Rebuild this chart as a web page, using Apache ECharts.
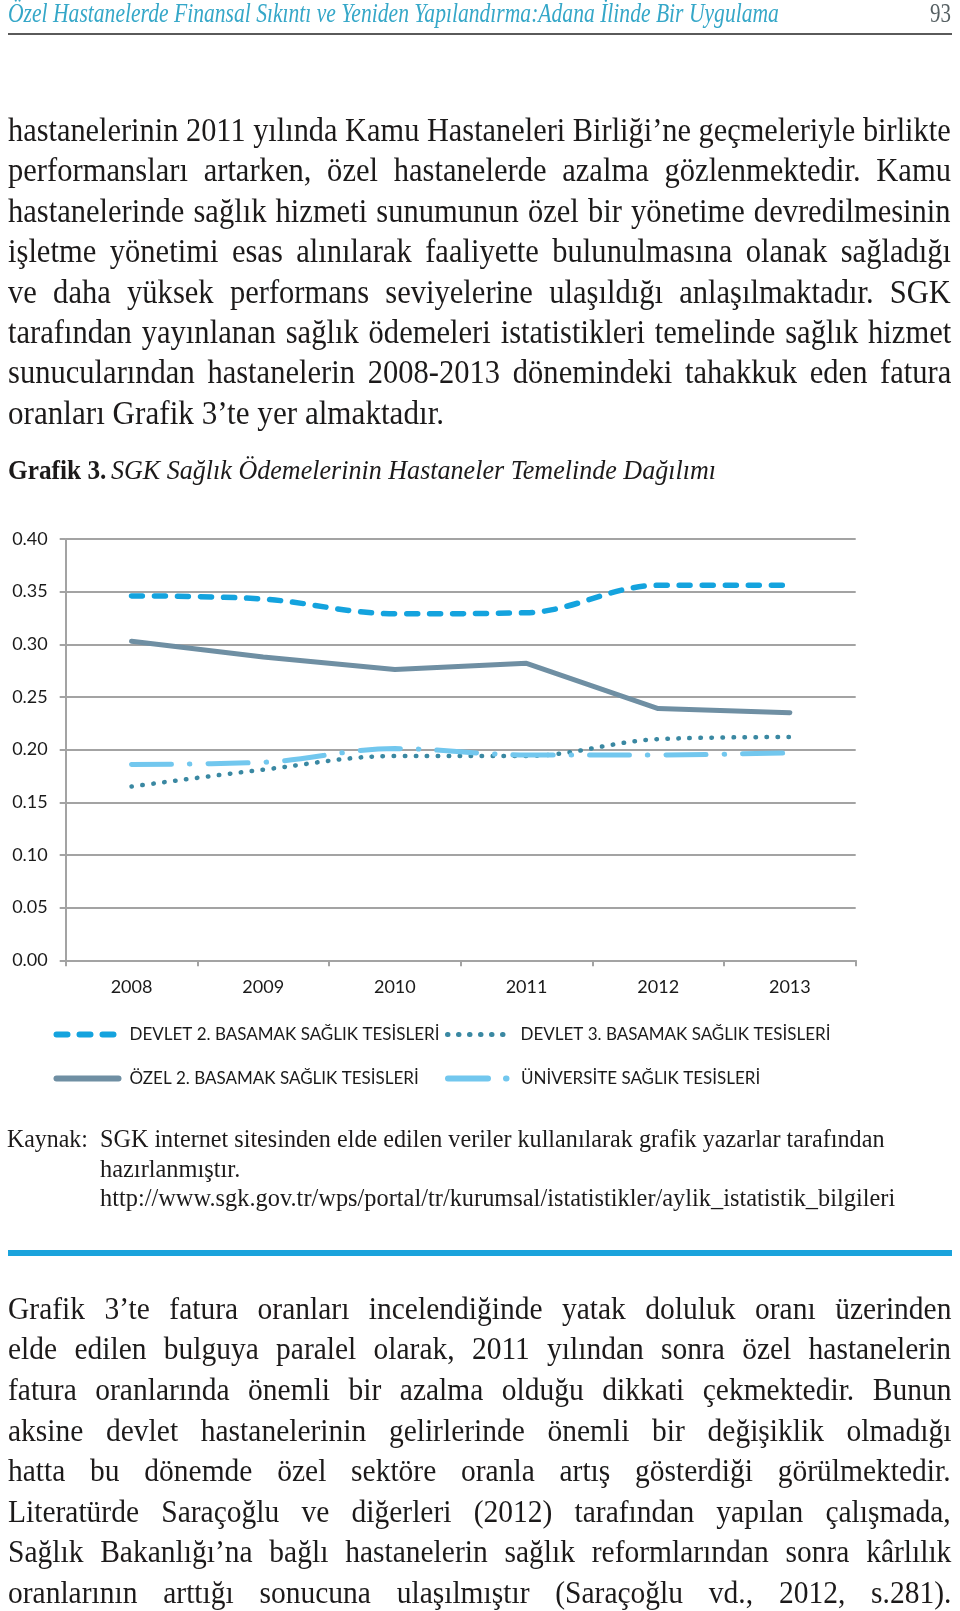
<!DOCTYPE html>
<html>
<head>
<meta charset="utf-8">
<script src="https://cdn.jsdelivr.net/npm/echarts@6/dist/echarts.min.js"></script>
<style>
  html, body { margin:0; padding:0; background:#fff; }
  #page { position:relative; width:960px; height:1611px; overflow:hidden; }
  #chart { position:absolute; left:0; top:0; width:960px; height:1611px; }
  .ln { position:absolute; white-space:pre; transform-origin:0 0; color:#1c1a1a; }
</style>
</head>
<body>
<div id="page">
  <div id="chart"></div>
  <div style="position:absolute;left:8px;top:33px;width:944px;height:2px;background:#5a5a5a;"></div>
  <div style="position:absolute;left:8px;top:1250px;width:944px;height:6px;background:#1aa3dc;"></div>
</div>
<script>
// ---- chart data ----
const years = ['2008', '2009', '2010', '2011', '2012', '2013'];
const devlet2 = [0.346, 0.343, 0.329, 0.330, 0.356, 0.356];
const devlet3 = [0.165, 0.181, 0.194, 0.194, 0.210, 0.212];
const ozel2 = [0.303, 0.288, 0.276, 0.282, 0.239, 0.235];
const universite = [0.186, 0.188, 0.201, 0.195, 0.195, 0.197];
const seriesNames = [
  'DEVLET 2. BASAMAK SAĞLIK TESİSLERİ',
  'DEVLET 3. BASAMAK SAĞLIK TESİSLERİ',
  'ÖZEL 2. BASAMAK SAĞLIK TESİSLERİ',
  'ÜNİVERSİTE SAĞLIK TESİSLERİ'
];

// ---- page text ----
const headerTitle = 'Özel Hastanelerde Finansal Sıkıntı ve Yeniden Yapılandırma:Adana İlinde Bir Uygulama';
const pageNumber = '93';
const topLines = [
  'hastanelerinin 2011 yılında Kamu Hastaneleri Birliği’ne geçmeleriyle birlikte',
  'performansları artarken, özel hastanelerde azalma gözlenmektedir. Kamu',
  'hastanelerinde sağlık hizmeti sunumunun özel bir yönetime devredilmesinin',
  'işletme yönetimi esas alınılarak faaliyette bulunulmasına olanak sağladığı',
  've daha yüksek performans seviyelerine ulaşıldığı anlaşılmaktadır. SGK',
  'tarafından yayınlanan sağlık ödemeleri istatistikleri temelinde sağlık hizmet',
  'sunucularından hastanelerin 2008-2013 dönemindeki tahakkuk eden fatura',
  'oranları Grafik 3’te yer almaktadır.'
];
const captionBold = 'Grafik 3.';
const captionItalic = 'SGK Sağlık Ödemelerinin Hastaneler Temelinde Dağılımı';
const sourceLabel = 'Kaynak:';
const sourceLines = [
  'SGK internet sitesinden elde edilen veriler kullanılarak grafik yazarlar tarafından',
  'hazırlanmıştır.',
  'http://www.sgk.gov.tr/wps/portal/tr/kurumsal/istatistikler/aylik_istatistik_bilgileri'
];
const bottomLines = [
  'Grafik 3’te fatura oranları incelendiğinde yatak doluluk oranı üzerinden',
  'elde edilen bulguya paralel olarak, 2011 yılından sonra özel hastanelerin',
  'fatura oranlarında önemli bir azalma olduğu dikkati çekmektedir. Bunun',
  'aksine devlet hastanelerinin gelirlerinde önemli bir değişiklik olmadığı',
  'hatta bu dönemde özel sektöre oranla artış gösterdiği görülmektedir.',
  'Literatürde Saraçoğlu ve diğerleri (2012) tarafından yapılan çalışmada,',
  'Sağlık Bakanlığı’na bağlı hastanelerin sağlık reformlarından sonra kârlılık',
  'oranlarının arttığı sonucuna ulaşılmıştır (Saraçoğlu vd., 2012, s.281).'
];

const page = document.getElementById('page');
function placeLine(o) {
  const el = document.createElement('div');
  el.className = 'ln';
  el.textContent = o.text;
  const F = o.size;
  el.style.fontFamily = '"Liberation Serif", "Times New Roman", serif';
  el.style.fontSize = F + 'px';
  el.style.lineHeight = F + 'px';
  if (o.weight) el.style.fontWeight = o.weight;
  if (o.italic) el.style.fontStyle = 'italic';
  if (o.color) el.style.color = o.color;
  el.style.left = o.x + 'px';
  page.appendChild(el);
  let W = el.offsetWidth;
  const s0 = o.s0 || 1;
  const sy = o.sy || 1;
  if (o.justify) {
    const spaces = (o.text.match(/ /g) || []).length;
    if (spaces > 0 && W * s0 < o.width) {
      el.style.wordSpacing = ((o.width / s0 - W) / spaces) + 'px';
      W = el.offsetWidth;
    }
  }
  const sx = o.width / W;
  el.style.top = (o.baseline - 0.8375 * F * sy) + 'px';
  el.style.transform = 'scale(' + sx + ',' + sy + ')';
}

// header
placeLine({text: headerTitle, x: 8, baseline: 22, size: 23, italic: true, color: '#35a7c8', width: 771, sy: 1.15});
placeLine({text: pageNumber, x: 930, baseline: 22, size: 23, color: '#555f62', width: 21, sy: 1.15});

// top paragraph
topLines.forEach((t, i) => {
  const last = i === topLines.length - 1;
  placeLine({text: t, x: 8, baseline: 141.5 + 40.4 * i, size: 31.5, sy: 1.04, s0: 0.97,
    justify: !last, width: last ? 436 : 943});
});

// caption
placeLine({text: captionBold, x: 8, baseline: 480, size: 24, weight: 'bold', width: 98, sy: 1.12});
placeLine({text: captionItalic, x: 111, baseline: 480, size: 24, italic: true, width: 605, sy: 1.12});

// source
placeLine({text: sourceLabel, x: 7, baseline: 1147, size: 23, width: 81, sy: 1.1});
const srcW = [785, 140, 795];
sourceLines.forEach((t, i) => {
  placeLine({text: t, x: 99.5, baseline: 1147 + 29.7 * i, size: 23, sy: 1.1, width: srcW[i]});
});

// bottom paragraph
bottomLines.forEach((t, i) => {
  placeLine({text: t, x: 8, baseline: 1320 + 40.6 * i, size: 29.5, sy: 1.1, s0: 1,
    justify: true, width: 943});
});

// ---- chart ----
const chart = echarts.init(document.getElementById('chart'), null, {renderer: 'canvas'});
const gridColor = '#a3a3a3';
const labelFont = {fontFamily: 'Lato', fontSize: 18, color: '#1a1a1a'};
function legendAt(name, left, top, lw) {
  return {
    data: [name], left: left, top: top, padding: 0, itemWidth: 62, itemHeight: 14, itemGap: 0,
    selectedMode: false,
    itemStyle: {opacity: 0, borderWidth: 0},
    lineStyle: {width: lw},
    textStyle: {fontFamily: 'Lato', fontSize: 17, color: '#1a1a1a', padding: [0, 0, 0, 6]}
  };
}
const option = {
  animation: false,
  backgroundColor: 'transparent',
  grid: {left: 65.7, right: 104.3, top: 539, bottom: 650.7},
  xAxis: {
    type: 'category', data: years, boundaryGap: true,
    axisLine: {show: true, lineStyle: {color: gridColor, width: 2}},
    axisTick: {show: true, length: 6, lineStyle: {color: gridColor, width: 2}},
    axisLabel: Object.assign({margin: 18}, labelFont),
    splitLine: {show: false}
  },
  yAxis: {
    type: 'value', min: 0, max: 0.4, interval: 0.05,
    axisLine: {show: true, lineStyle: {color: gridColor, width: 2}},
    axisTick: {show: true, length: 6, lineStyle: {color: gridColor, width: 2}},
    axisLabel: Object.assign({margin: 18, formatter: v => v.toFixed(2)}, labelFont),
    splitLine: {show: true, lineStyle: {color: gridColor, width: 2}}
  },
  legend: [
    legendAt(seriesNames[0], 53.5, 1026, 6),
    legendAt(seriesNames[1], 445, 1026, 5),
    legendAt(seriesNames[2], 53.5, 1070, 6),
    legendAt(seriesNames[3], 445, 1070, 6)
  ],
  series: [
    {name: seriesNames[0], type: 'line', data: devlet2, smooth: 0.35, symbol: 'none', showSymbol: false,
      lineStyle: {color: '#14a3de', width: 5.5, type: [11, 12], cap: 'round'}, itemStyle: {color: '#14a3de'}},
    {name: seriesNames[1], type: 'line', data: devlet3, smooth: 0.35, symbol: 'none', showSymbol: false,
      lineStyle: {color: '#3a88a2', width: 4.5, type: [0.5, 10.5], cap: 'round'}, itemStyle: {color: '#3a88a2'}},
    {name: seriesNames[2], type: 'line', data: ozel2, smooth: false, symbol: 'none', showSymbol: false,
      lineStyle: {color: '#6f8fa3', width: 5, type: 'solid', cap: 'round'}, itemStyle: {color: '#6f8fa3'}},
    {name: seriesNames[3], type: 'line', data: universite, smooth: 0.35, symbol: 'none', showSymbol: false,
      lineStyle: {color: '#72c7ee', width: 5, type: [40, 18, 0.5, 18], cap: 'round'}, itemStyle: {color: '#72c7ee'}}
  ]
};
chart.setOption(option);
</script>
</body>
</html>
